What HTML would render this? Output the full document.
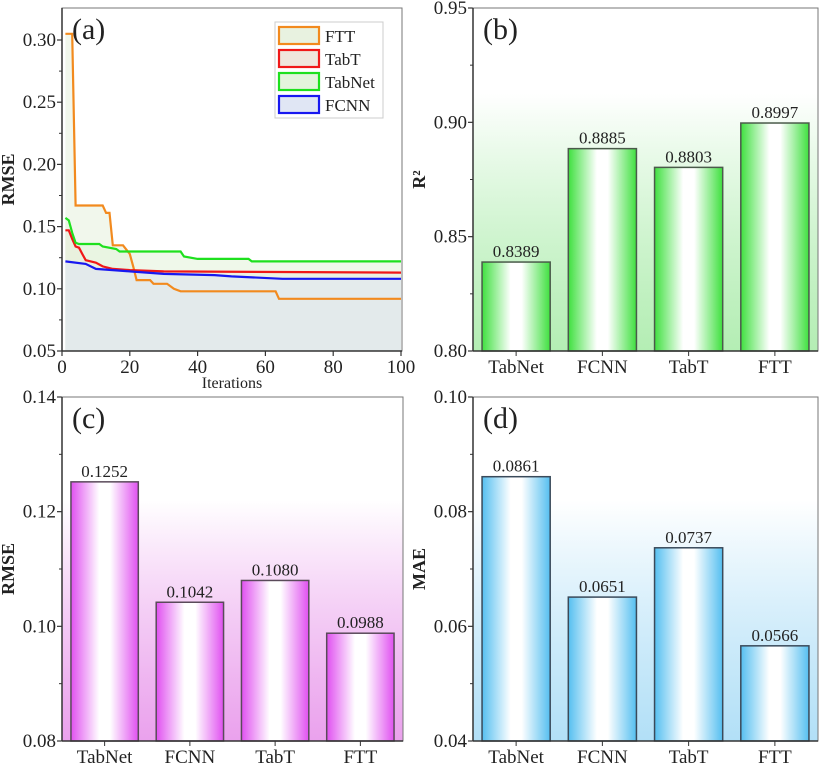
<!DOCTYPE html>
<html><head><meta charset="utf-8"><style>
body{margin:0;background:#fff;}
svg{display:block;font-family:"Liberation Serif",serif;}
</style></head><body>
<svg id="s" width="820" height="766" viewBox="0 0 820 766" xmlns="http://www.w3.org/2000/svg">
<defs>
<linearGradient id="bgG" x1="0" y1="0" x2="0" y2="1"><stop offset="0" stop-color="#fff"/><stop offset="0.25" stop-color="#fff"/><stop offset="1" stop-color="#9be89b" stop-opacity="0.75"/></linearGradient>
<linearGradient id="bgP" x1="0" y1="0" x2="0" y2="1"><stop offset="0" stop-color="#fff"/><stop offset="0.3" stop-color="#fff"/><stop offset="1" stop-color="#e58ae8" stop-opacity="0.8"/></linearGradient>
<linearGradient id="bgB" x1="0" y1="0" x2="0" y2="1"><stop offset="0" stop-color="#fff"/><stop offset="0.3" stop-color="#fff"/><stop offset="1" stop-color="#9fd8f5" stop-opacity="0.8"/></linearGradient>
<linearGradient id="barG" x1="0" y1="0" x2="1" y2="0"><stop offset="0" stop-color="#3fe03f"/><stop offset="0.42" stop-color="#fff"/><stop offset="0.58" stop-color="#fff"/><stop offset="1" stop-color="#3fe03f"/></linearGradient>
<linearGradient id="barP" x1="0" y1="0" x2="1" y2="0"><stop offset="0" stop-color="#e050f0"/><stop offset="0.42" stop-color="#fff"/><stop offset="0.58" stop-color="#fff"/><stop offset="1" stop-color="#e050f0"/></linearGradient>
<linearGradient id="barB" x1="0" y1="0" x2="1" y2="0"><stop offset="0" stop-color="#55bff0"/><stop offset="0.42" stop-color="#fff"/><stop offset="0.58" stop-color="#fff"/><stop offset="1" stop-color="#55bff0"/></linearGradient>
</defs>
</svg>
<script>
// Panel (a) data
const iterFTT=[1,3,4,12,13,14,15,18,20,21,22,26,27,31,33,35,40,63,64,100];
const rmseFTT=[0.305,0.305,0.167,0.167,0.161,0.161,0.135,0.135,0.128,0.118,0.107,0.107,0.104,0.104,0.100,0.098,0.098,0.098,0.092,0.092];
const iterTabT=[1,2,3,4,5,6,7,10,12,15,20,30,100];
const rmseTabT=[0.147,0.147,0.140,0.134,0.133,0.128,0.123,0.121,0.118,0.116,0.115,0.114,0.113];
const iterTabNet=[1,2,3,4,5,11,12,16,17,35,36,40,55,56,100];
const rmseTabNet=[0.157,0.155,0.145,0.137,0.136,0.136,0.134,0.132,0.130,0.130,0.126,0.124,0.124,0.122,0.122];
const iterFCNN=[1,7,10,20,30,45,50,65,100];
const rmseFCNN=[0.122,0.120,0.116,0.114,0.112,0.111,0.110,0.108,0.108];
const xTicksA=[0,20,40,60,80,100];
const yTicksA=[0.05,0.10,0.15,0.20,0.25,0.30];
// Bar data
const models=["TabNet","FCNN","TabT","FTT"];
const r2Values=[0.8389,0.8885,0.8803,0.8997];
const r2Labels=["0.8389","0.8885","0.8803","0.8997"];
const rmseValues=[0.1252,0.1042,0.1080,0.0988];
const rmseLabels=["0.1252","0.1042","0.1080","0.0988"];
const maeValues=[0.0861,0.0651,0.0737,0.0566];
const maeLabels=["0.0861","0.0651","0.0737","0.0566"];
const yTicksB=[0.80,0.85,0.90,0.95];
const yTicksC=[0.08,0.10,0.12,0.14];
const yTicksD=[0.04,0.06,0.08,0.10];

const svg=document.getElementById('s');
const NS='http://www.w3.org/2000/svg';
function mk(tag,attrs,parent){const e=document.createElementNS(NS,tag);for(const k in attrs)e.setAttribute(k,attrs[k]);(parent||svg).appendChild(e);return e;}
function txt(s,attrs,parent){const e=mk('text',attrs,parent);e.textContent=s;return e;}

function axesFrame(g,L,T,R,B,yt,ymin,ymax,dec,title,label){
  const ys=v=>B-(v-ymin)/(ymax-ymin)*(B-T);
  yt.forEach((v,i)=>{
    const t=mk('line',{x1:L-5,x2:L,y1:ys(v),y2:ys(v),stroke:'#333','stroke-width':1.2},g);
    
    const l=txt(v.toFixed(dec),{x:L-6,y:ys(v)+6,'text-anchor':'end','font-size':19,fill:'#222'},g);
    
    if(i<yt.length-1){const m=(v+yt[i+1])/2;mk('line',{x1:L-3,x2:L,y1:ys(m),y2:ys(m),stroke:'#333'},g);}
  });
  const f=mk('rect',{x:L,y:T,width:R-L,height:B-T,fill:'none',stroke:'#777','stroke-width':1},g);
  
  mk('line',{x1:L,x2:L,y1:T,y2:B,stroke:'#333','stroke-width':1.5},g);
  mk('line',{x1:L,x2:R,y1:B,y2:B,stroke:'#333','stroke-width':1.5},g);
  const yt2=txt(title,{transform:`translate(${L-48},${(T+B)/2}) rotate(-90)`,'text-anchor':'middle','font-size':18,'font-weight':'bold',fill:'#222'},g);
  
  const pl=txt(label,{x:L+10,y:T+31,'font-size':30,fill:'#222'},g);
  
  return ys;
}

// Panel (a)
(function(){
  const g=mk('g',{});
  const L=62,R=402,T=8,B=351,xmin=0,xmax=100,ymax=0.05+0.25*(B-T)/311;
  const xs=v=>L+(v-xmin)/(xmax-xmin)*(401-L);
  const ys=v=>B-(v-0.05)/0.25*311;
  const series=[
    {n:'FTT',x:iterFTT,y:rmseFTT,c:'#f28a1e',fill:'#e8f2e0'},
    {n:'TabT',x:iterTabT,y:rmseTabT,c:'#f01818',fill:'#efe6dc'},
    {n:'TabNet',x:iterTabNet,y:rmseTabNet,c:'#1ee01e',fill:'#e4f4dc'},
    {n:'FCNN',x:iterFCNN,y:rmseFCNN,c:'#1818f0',fill:'#e0e6f4'}];
  function pathOf(s){let d='';for(let i=0;i<s.x.length;i++){d+=(i?'L':'M')+xs(s.x[i]).toFixed(1)+','+ys(s.y[i]).toFixed(1);}return d;}
  series.forEach(s=>{
    const a=mk('path',{d:pathOf(s)+`L${xs(s.x[s.x.length-1])},${B}L${xs(s.x[0])},${B}Z`,fill:s.fill,'fill-opacity':0.6},g);
    
  });
  series.forEach(s=>{
    const p=mk('path',{d:pathOf(s),fill:'none',stroke:s.c,'stroke-width':2.2},g);
    
  });
  axesFrame(g,L,T,R,B,yTicksA,0.05,ymax,2,'RMSE','(a)');
  xTicksA.forEach(v=>{
    mk('line',{x1:xs(v),x2:xs(v),y1:B,y2:B+5,stroke:'#333','stroke-width':1.2},g);
    const l=txt(String(v),{x:xs(v),y:B+22,'text-anchor':'middle','font-size':19,fill:'#222'},g);
    
  });
  const xt=txt('Iterations',{x:(L+R)/2,y:B+37,'text-anchor':'middle','font-size':16,fill:'#222'},g);
  
  const lg=mk('g',{},g);
  mk('rect',{x:275,y:22,width:108,height:96,fill:'#fff',stroke:'#ccc'},lg);
  series.forEach((s,i)=>{
    const y=27+i*23;
    const e=mk('g',{},lg);
    mk('rect',{x:279,y:y,width:40,height:17,fill:s.fill,stroke:s.c,'stroke-width':2.2},e);
    txt(s.n,{x:325,y:y+15,'font-size':17,fill:'#222'},e);
  });
})();

function barPanel(name,L,T,R,B,yt,dec,title,label,vals,labs,bg,bar,stroke){
  const g=mk('g',{});
  const ymin=yt[0],ymax=yt[yt.length-1];
  const b=mk('rect',{x:L,y:T,width:R-L,height:B-T,fill:`url(#${bg})`},g);
  
  const ys=v=>B-(v-ymin)/(ymax-ymin)*(B-T);
  const slot=(R-L)/models.length,bw=slot*0.79;
  models.forEach((m,i)=>{
    const cx=L+slot*(i+0.5);
    const r=mk('rect',{x:cx-bw/2,y:ys(vals[i]),width:bw,height:B-ys(vals[i]),fill:`url(#${bar})`,stroke:stroke,'stroke-width':1.5},g);
    
    const v=txt(labs[i],{x:cx,y:ys(vals[i])-5,'text-anchor':'middle','font-size':17,fill:'#222'},g);
    
    mk('line',{x1:cx,x2:cx,y1:B,y2:B+5,stroke:'#333'},g);
    const xl=txt(m,{x:cx,y:B+22,'text-anchor':'middle','font-size':19,fill:'#222'},g);
    
  });
  axesFrame(g,L,T,R,B,yt,ymin,ymax,dec,title,label);
}
barPanel('panel-b-r2',473,8,818,351,yTicksB,2,'R²','(b)',r2Values,r2Labels,'bgG','barG','#4a5a4a');
barPanel('panel-c-rmse',62,397,403,741,yTicksC,2,'RMSE','(c)',rmseValues,rmseLabels,'bgP','barP','#5a4a5a');
barPanel('panel-d-mae',473,397,818,741,yTicksD,2,'MAE','(d)',maeValues,maeLabels,'bgB','barB','#3a4a5a');
</script>
</body></html>
